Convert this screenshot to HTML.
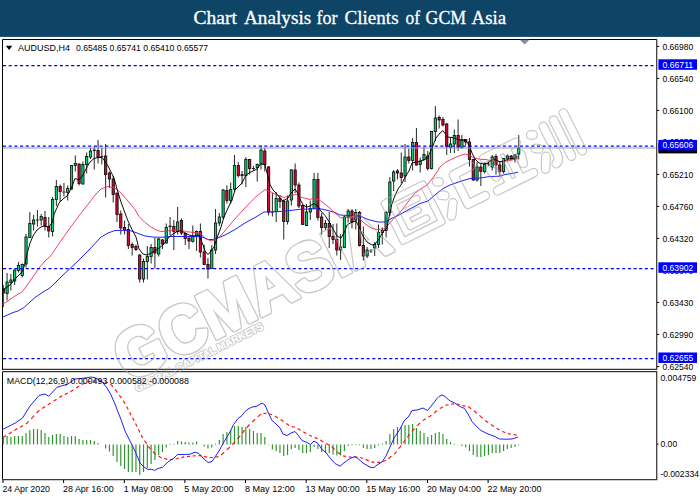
<!DOCTYPE html><html><head><meta charset="utf-8"><title>Chart Analysis for Clients of GCM Asia</title>
<style>html,body{margin:0;padding:0;background:#fff;}body{width:700px;height:500px;overflow:hidden;}svg{display:block;}text{font-family:"Liberation Sans",sans-serif;}</style>
</head><body>
<svg width="700" height="500" viewBox="0 0 700 500">
<rect x="0" y="0" width="700" height="500" fill="#ffffff"/>
<rect x="0" y="0" width="700" height="36.9" fill="#0e4466"/>
<text x="193.5" y="24.2" textLength="43.5" lengthAdjust="spacingAndGlyphs" style="font-family:'Liberation Serif',serif;font-size:19.6px" fill="#ffffff" stroke="#ffffff" stroke-width="0.3">Chart</text>
<text x="244" y="24.2" textLength="67.2" lengthAdjust="spacingAndGlyphs" style="font-family:'Liberation Serif',serif;font-size:19.6px" fill="#ffffff" stroke="#ffffff" stroke-width="0.3">Analysis</text>
<text x="316.6" y="24.2" textLength="21.0" lengthAdjust="spacingAndGlyphs" style="font-family:'Liberation Serif',serif;font-size:19.6px" fill="#ffffff" stroke="#ffffff" stroke-width="0.3">for</text>
<text x="344.5" y="24.2" textLength="54.1" lengthAdjust="spacingAndGlyphs" style="font-family:'Liberation Serif',serif;font-size:19.6px" fill="#ffffff" stroke="#ffffff" stroke-width="0.3">Clients</text>
<text x="405.5" y="24.2" textLength="14.5" lengthAdjust="spacingAndGlyphs" style="font-family:'Liberation Serif',serif;font-size:19.6px" fill="#ffffff" stroke="#ffffff" stroke-width="0.3">of</text>
<text x="425.6" y="24.2" textLength="40.6" lengthAdjust="spacingAndGlyphs" style="font-family:'Liberation Serif',serif;font-size:19.6px" fill="#ffffff" stroke="#ffffff" stroke-width="0.3">GCM</text>
<text x="471.6" y="24.2" textLength="34.5" lengthAdjust="spacingAndGlyphs" style="font-family:'Liberation Serif',serif;font-size:19.6px" fill="#ffffff" stroke="#ffffff" stroke-width="0.3">Asia</text>
<g fill="none" stroke="#000" stroke-width="1">
<path d="M2.5,369.8 V39.5 H657"/>
<path d="M2,369.3 H657" />
<path d="M2.5,480 V371.7 H657" />
</g>
<path d="M656.7,39 V369.8 M656.7,371.2 V480" stroke="#383838" stroke-width="1.25" fill="none"/>
<path d="M2,479.6 H657.2" stroke="#3a3a3a" stroke-width="1.1" fill="none"/>
<path d="M519.8,39.8 H529.4 L524.6,44.4 Z" fill="#7f8ea0"/>
<clipPath id="cc"><rect x="3" y="40" width="653" height="329"/></clipPath>
<g clip-path="url(#cc)">
<path d="M3.30,285.0 V307.0" stroke="#1a1a1a" stroke-width="0.95"/>
<rect x="2.18" y="289.0" width="2.24" height="4.0" fill="#d80836" stroke="#140606" stroke-width="0.85"/>
<path d="M7.09,273.0 V300.5" stroke="#1a1a1a" stroke-width="0.95"/>
<rect x="5.97" y="282.0" width="2.24" height="11.5" fill="#00d67a" stroke="#06140c" stroke-width="0.85"/>
<path d="M10.88,274.0 V290.5" stroke="#1a1a1a" stroke-width="0.95"/>
<rect x="9.76" y="280.0" width="2.24" height="2.5" fill="#00d67a" stroke="#06140c" stroke-width="0.85"/>
<path d="M14.67,269.5 V285.0" stroke="#1a1a1a" stroke-width="0.95"/>
<rect x="13.55" y="270.0" width="2.24" height="11.0" fill="#00d67a" stroke="#06140c" stroke-width="0.85"/>
<path d="M18.46,262.0 V272.5" stroke="#1a1a1a" stroke-width="0.95"/>
<rect x="17.34" y="265.5" width="2.24" height="5.0" fill="#00d67a" stroke="#06140c" stroke-width="0.85"/>
<path d="M22.25,263.5 V277.5" stroke="#1a1a1a" stroke-width="0.95"/>
<rect x="21.13" y="264.5" width="2.24" height="11.0" fill="#00d67a" stroke="#06140c" stroke-width="0.85"/>
<path d="M26.04,234.0 V267.5" stroke="#1a1a1a" stroke-width="0.95"/>
<rect x="24.92" y="237.0" width="2.24" height="27.0" fill="#00d67a" stroke="#06140c" stroke-width="0.85"/>
<path d="M29.83,212.0 V237.5" stroke="#1a1a1a" stroke-width="0.95"/>
<rect x="28.71" y="223.5" width="2.24" height="14.0" fill="#00d67a" stroke="#06140c" stroke-width="0.85"/>
<path d="M33.62,215.0 V230.5" stroke="#1a1a1a" stroke-width="0.95"/>
<rect x="32.50" y="220.0" width="2.24" height="4.0" fill="#00d67a" stroke="#06140c" stroke-width="0.85"/>
<path d="M37.41,210.0 V226.5" stroke="#1a1a1a" stroke-width="0.95"/>
<rect x="35.91" y="219.6" width="3" height="0.9" fill="#1a1a1a"/>
<path d="M41.20,214.0 V225.5" stroke="#1a1a1a" stroke-width="0.95"/>
<rect x="40.08" y="216.5" width="2.24" height="3.5" fill="#00d67a" stroke="#06140c" stroke-width="0.85"/>
<path d="M44.99,211.0 V230.5" stroke="#1a1a1a" stroke-width="0.95"/>
<rect x="43.87" y="217.5" width="2.24" height="8.5" fill="#d80836" stroke="#140606" stroke-width="0.85"/>
<path d="M48.78,217.0 V237.5" stroke="#1a1a1a" stroke-width="0.95"/>
<rect x="47.66" y="226.5" width="2.24" height="4.5" fill="#d80836" stroke="#140606" stroke-width="0.85"/>
<path d="M52.57,197.0 V236.5" stroke="#1a1a1a" stroke-width="0.95"/>
<rect x="51.45" y="199.5" width="2.24" height="32.0" fill="#00d67a" stroke="#06140c" stroke-width="0.85"/>
<path d="M56.36,180.0 V206.0" stroke="#1a1a1a" stroke-width="0.95"/>
<rect x="55.24" y="186.5" width="2.24" height="13.0" fill="#00d67a" stroke="#06140c" stroke-width="0.85"/>
<path d="M60.15,184.5 V202.0" stroke="#1a1a1a" stroke-width="0.95"/>
<rect x="59.03" y="186.5" width="2.24" height="5.0" fill="#d80836" stroke="#140606" stroke-width="0.85"/>
<path d="M63.94,183.0 V196.5" stroke="#1a1a1a" stroke-width="0.95"/>
<rect x="62.44" y="191.6" width="3" height="0.9" fill="#1a1a1a"/>
<path d="M67.73,185.5 V200.5" stroke="#1a1a1a" stroke-width="0.95"/>
<rect x="66.61" y="188.5" width="2.24" height="4.0" fill="#00d67a" stroke="#06140c" stroke-width="0.85"/>
<path d="M71.52,165.5 V189.5" stroke="#1a1a1a" stroke-width="0.95"/>
<rect x="70.40" y="165.5" width="2.24" height="23.5" fill="#00d67a" stroke="#06140c" stroke-width="0.85"/>
<path d="M75.31,155.5 V171.5" stroke="#1a1a1a" stroke-width="0.95"/>
<rect x="74.19" y="163.5" width="2.24" height="2.0" fill="#00d67a" stroke="#06140c" stroke-width="0.85"/>
<path d="M79.10,163.5 V185.5" stroke="#1a1a1a" stroke-width="0.95"/>
<rect x="77.98" y="164.0" width="2.24" height="19.5" fill="#d80836" stroke="#140606" stroke-width="0.85"/>
<path d="M82.89,161.5 V184.5" stroke="#1a1a1a" stroke-width="0.95"/>
<rect x="81.77" y="164.5" width="2.24" height="19.5" fill="#00d67a" stroke="#06140c" stroke-width="0.85"/>
<path d="M86.68,152.5 V173.5" stroke="#1a1a1a" stroke-width="0.95"/>
<rect x="85.56" y="156.5" width="2.24" height="8.0" fill="#00d67a" stroke="#06140c" stroke-width="0.85"/>
<path d="M90.47,148.0 V159.0" stroke="#1a1a1a" stroke-width="0.95"/>
<rect x="89.35" y="151.0" width="2.24" height="6.0" fill="#00d67a" stroke="#06140c" stroke-width="0.85"/>
<path d="M94.26,146.5 V169.5" stroke="#1a1a1a" stroke-width="0.95"/>
<rect x="92.76" y="149.6" width="3" height="1.5" fill="#1a1a1a"/>
<path d="M98.05,140.0 V163.5" stroke="#1a1a1a" stroke-width="0.95"/>
<rect x="96.93" y="150.5" width="2.24" height="6.5" fill="#d80836" stroke="#140606" stroke-width="0.85"/>
<path d="M101.84,148.0 V164.5" stroke="#1a1a1a" stroke-width="0.95"/>
<rect x="100.34" y="156.1" width="3" height="0.9" fill="#1a1a1a"/>
<path d="M105.63,144.0 V197.5" stroke="#1a1a1a" stroke-width="0.95"/>
<rect x="104.51" y="156.0" width="2.24" height="18.5" fill="#d80836" stroke="#140606" stroke-width="0.85"/>
<path d="M109.42,171.5 V188.0" stroke="#1a1a1a" stroke-width="0.95"/>
<rect x="108.30" y="173.0" width="2.24" height="6.0" fill="#d80836" stroke="#140606" stroke-width="0.85"/>
<path d="M113.21,176.0 V202.5" stroke="#1a1a1a" stroke-width="0.95"/>
<rect x="112.09" y="179.0" width="2.24" height="15.5" fill="#d80836" stroke="#140606" stroke-width="0.85"/>
<path d="M117.00,193.0 V222.0" stroke="#1a1a1a" stroke-width="0.95"/>
<rect x="115.88" y="193.0" width="2.24" height="21.5" fill="#d80836" stroke="#140606" stroke-width="0.85"/>
<path d="M120.79,210.5 V234.5" stroke="#1a1a1a" stroke-width="0.95"/>
<rect x="119.67" y="214.0" width="2.24" height="14.0" fill="#d80836" stroke="#140606" stroke-width="0.85"/>
<path d="M124.58,220.5 V234.5" stroke="#1a1a1a" stroke-width="0.95"/>
<rect x="123.46" y="227.5" width="2.24" height="2.5" fill="#d80836" stroke="#140606" stroke-width="0.85"/>
<path d="M128.37,224.0 V249.0" stroke="#1a1a1a" stroke-width="0.95"/>
<rect x="127.25" y="229.5" width="2.24" height="16.0" fill="#d80836" stroke="#140606" stroke-width="0.85"/>
<path d="M132.16,242.5 V255.5" stroke="#1a1a1a" stroke-width="0.95"/>
<rect x="131.04" y="244.5" width="2.24" height="3.0" fill="#d80836" stroke="#140606" stroke-width="0.85"/>
<path d="M135.95,244.5 V251.0" stroke="#1a1a1a" stroke-width="0.95"/>
<rect x="134.83" y="246.5" width="2.24" height="3.0" fill="#d80836" stroke="#140606" stroke-width="0.85"/>
<path d="M139.74,254.5 V282.5" stroke="#1a1a1a" stroke-width="0.95"/>
<rect x="138.62" y="255.0" width="2.24" height="24.0" fill="#d80836" stroke="#140606" stroke-width="0.85"/>
<path d="M143.53,258.5 V282.5" stroke="#1a1a1a" stroke-width="0.95"/>
<rect x="142.41" y="261.5" width="2.24" height="17.5" fill="#00d67a" stroke="#06140c" stroke-width="0.85"/>
<path d="M147.32,246.0 V279.5" stroke="#1a1a1a" stroke-width="0.95"/>
<rect x="146.20" y="256.5" width="2.24" height="5.0" fill="#00d67a" stroke="#06140c" stroke-width="0.85"/>
<path d="M151.11,244.0 V263.5" stroke="#1a1a1a" stroke-width="0.95"/>
<rect x="149.99" y="247.5" width="2.24" height="9.0" fill="#00d67a" stroke="#06140c" stroke-width="0.85"/>
<path d="M154.90,238.0 V268.5" stroke="#1a1a1a" stroke-width="0.95"/>
<rect x="153.78" y="247.5" width="2.24" height="5.5" fill="#d80836" stroke="#140606" stroke-width="0.85"/>
<path d="M158.69,238.0 V256.5" stroke="#1a1a1a" stroke-width="0.95"/>
<rect x="157.57" y="239.0" width="2.24" height="15.0" fill="#00d67a" stroke="#06140c" stroke-width="0.85"/>
<path d="M162.48,239.0 V249.0" stroke="#1a1a1a" stroke-width="0.95"/>
<rect x="161.36" y="240.0" width="2.24" height="4.0" fill="#d80836" stroke="#140606" stroke-width="0.85"/>
<path d="M166.27,223.5 V243.5" stroke="#1a1a1a" stroke-width="0.95"/>
<rect x="165.15" y="227.5" width="2.24" height="15.5" fill="#00d67a" stroke="#06140c" stroke-width="0.85"/>
<path d="M170.06,217.0 V235.0" stroke="#1a1a1a" stroke-width="0.95"/>
<rect x="168.56" y="225.6" width="3" height="1.5" fill="#1a1a1a"/>
<path d="M173.85,220.0 V250.0" stroke="#1a1a1a" stroke-width="0.95"/>
<rect x="172.73" y="226.5" width="2.24" height="5.0" fill="#d80836" stroke="#140606" stroke-width="0.85"/>
<path d="M177.64,207.0 V234.5" stroke="#1a1a1a" stroke-width="0.95"/>
<rect x="176.52" y="222.0" width="2.24" height="9.5" fill="#00d67a" stroke="#06140c" stroke-width="0.85"/>
<path d="M181.43,218.5 V235.0" stroke="#1a1a1a" stroke-width="0.95"/>
<rect x="180.31" y="220.5" width="2.24" height="12.5" fill="#d80836" stroke="#140606" stroke-width="0.85"/>
<path d="M185.22,232.5 V245.0" stroke="#1a1a1a" stroke-width="0.95"/>
<rect x="184.10" y="233.5" width="2.24" height="5.0" fill="#d80836" stroke="#140606" stroke-width="0.85"/>
<path d="M189.01,237.5 V249.0" stroke="#1a1a1a" stroke-width="0.95"/>
<rect x="187.89" y="238.0" width="2.24" height="3.0" fill="#d80836" stroke="#140606" stroke-width="0.85"/>
<path d="M192.80,225.5 V242.5" stroke="#1a1a1a" stroke-width="0.95"/>
<rect x="191.68" y="236.5" width="2.24" height="5.0" fill="#00d67a" stroke="#06140c" stroke-width="0.85"/>
<path d="M196.59,230.5 V251.0" stroke="#1a1a1a" stroke-width="0.95"/>
<rect x="195.47" y="231.5" width="2.24" height="4.5" fill="#00d67a" stroke="#06140c" stroke-width="0.85"/>
<path d="M200.38,223.5 V257.5" stroke="#1a1a1a" stroke-width="0.95"/>
<rect x="199.26" y="231.5" width="2.24" height="20.5" fill="#d80836" stroke="#140606" stroke-width="0.85"/>
<path d="M204.17,244.5 V264.5" stroke="#1a1a1a" stroke-width="0.95"/>
<rect x="203.05" y="252.0" width="2.24" height="12.5" fill="#d80836" stroke="#140606" stroke-width="0.85"/>
<path d="M207.96,258.0 V278.5" stroke="#1a1a1a" stroke-width="0.95"/>
<rect x="206.84" y="264.5" width="2.24" height="4.5" fill="#d80836" stroke="#140606" stroke-width="0.85"/>
<path d="M211.75,245.0 V268.5" stroke="#1a1a1a" stroke-width="0.95"/>
<rect x="210.63" y="250.0" width="2.24" height="18.5" fill="#00d67a" stroke="#06140c" stroke-width="0.85"/>
<path d="M215.54,209.0 V254.0" stroke="#1a1a1a" stroke-width="0.95"/>
<rect x="214.42" y="223.0" width="2.24" height="27.0" fill="#00d67a" stroke="#06140c" stroke-width="0.85"/>
<path d="M219.33,213.0 V226.0" stroke="#1a1a1a" stroke-width="0.95"/>
<rect x="218.21" y="217.0" width="2.24" height="6.0" fill="#00d67a" stroke="#06140c" stroke-width="0.85"/>
<path d="M223.12,189.0 V219.0" stroke="#1a1a1a" stroke-width="0.95"/>
<rect x="222.00" y="190.0" width="2.24" height="27.0" fill="#00d67a" stroke="#06140c" stroke-width="0.85"/>
<path d="M226.91,185.5 V203.5" stroke="#1a1a1a" stroke-width="0.95"/>
<rect x="225.79" y="190.5" width="2.24" height="10.0" fill="#d80836" stroke="#140606" stroke-width="0.85"/>
<path d="M230.70,182.5 V203.5" stroke="#1a1a1a" stroke-width="0.95"/>
<rect x="229.58" y="189.5" width="2.24" height="11.0" fill="#00d67a" stroke="#06140c" stroke-width="0.85"/>
<path d="M234.49,155.0 V191.5" stroke="#1a1a1a" stroke-width="0.95"/>
<rect x="233.37" y="165.5" width="2.24" height="23.5" fill="#00d67a" stroke="#06140c" stroke-width="0.85"/>
<path d="M238.28,162.0 V177.5" stroke="#1a1a1a" stroke-width="0.95"/>
<rect x="237.16" y="165.5" width="2.24" height="10.0" fill="#d80836" stroke="#140606" stroke-width="0.85"/>
<path d="M242.07,171.0 V184.5" stroke="#1a1a1a" stroke-width="0.95"/>
<rect x="240.57" y="174.1" width="3" height="2.0" fill="#1a1a1a"/>
<path d="M245.86,157.0 V187.0" stroke="#1a1a1a" stroke-width="0.95"/>
<rect x="244.74" y="159.5" width="2.24" height="16.0" fill="#00d67a" stroke="#06140c" stroke-width="0.85"/>
<path d="M249.65,159.0 V174.5" stroke="#1a1a1a" stroke-width="0.95"/>
<rect x="248.53" y="159.5" width="2.24" height="9.0" fill="#d80836" stroke="#140606" stroke-width="0.85"/>
<path d="M253.44,166.0 V170.5" stroke="#1a1a1a" stroke-width="0.95"/>
<rect x="251.94" y="168.1" width="3" height="0.9" fill="#1a1a1a"/>
<path d="M257.23,163.5 V181.5" stroke="#1a1a1a" stroke-width="0.95"/>
<rect x="256.11" y="164.5" width="2.24" height="3.0" fill="#00d67a" stroke="#06140c" stroke-width="0.85"/>
<path d="M261.02,145.5 V169.5" stroke="#1a1a1a" stroke-width="0.95"/>
<rect x="259.90" y="150.0" width="2.24" height="14.0" fill="#00d67a" stroke="#06140c" stroke-width="0.85"/>
<path d="M264.81,148.0 V171.5" stroke="#1a1a1a" stroke-width="0.95"/>
<rect x="263.69" y="151.0" width="2.24" height="13.5" fill="#d80836" stroke="#140606" stroke-width="0.85"/>
<path d="M268.60,166.0 V215.5" stroke="#1a1a1a" stroke-width="0.95"/>
<rect x="267.48" y="167.0" width="2.24" height="45.0" fill="#d80836" stroke="#140606" stroke-width="0.85"/>
<path d="M272.39,193.0 V216.5" stroke="#1a1a1a" stroke-width="0.95"/>
<rect x="270.89" y="211.6" width="3" height="0.9" fill="#1a1a1a"/>
<path d="M276.18,192.0 V222.0" stroke="#1a1a1a" stroke-width="0.95"/>
<rect x="275.06" y="198.5" width="2.24" height="13.0" fill="#00d67a" stroke="#06140c" stroke-width="0.85"/>
<path d="M279.97,195.0 V208.0" stroke="#1a1a1a" stroke-width="0.95"/>
<rect x="278.85" y="198.5" width="2.24" height="3.0" fill="#d80836" stroke="#140606" stroke-width="0.85"/>
<path d="M283.76,199.5 V239.5" stroke="#1a1a1a" stroke-width="0.95"/>
<rect x="282.64" y="201.5" width="2.24" height="20.0" fill="#d80836" stroke="#140606" stroke-width="0.85"/>
<path d="M287.55,195.5 V224.5" stroke="#1a1a1a" stroke-width="0.95"/>
<rect x="286.43" y="201.0" width="2.24" height="20.5" fill="#00d67a" stroke="#06140c" stroke-width="0.85"/>
<path d="M291.34,169.0 V205.5" stroke="#1a1a1a" stroke-width="0.95"/>
<rect x="290.22" y="170.0" width="2.24" height="30.0" fill="#00d67a" stroke="#06140c" stroke-width="0.85"/>
<path d="M295.13,163.5 V193.0" stroke="#1a1a1a" stroke-width="0.95"/>
<rect x="294.01" y="170.0" width="2.24" height="15.0" fill="#d80836" stroke="#140606" stroke-width="0.85"/>
<path d="M298.92,182.5 V208.0" stroke="#1a1a1a" stroke-width="0.95"/>
<rect x="297.80" y="185.0" width="2.24" height="21.0" fill="#d80836" stroke="#140606" stroke-width="0.85"/>
<path d="M302.71,205.0 V225.0" stroke="#1a1a1a" stroke-width="0.95"/>
<rect x="301.59" y="205.5" width="2.24" height="19.0" fill="#d80836" stroke="#140606" stroke-width="0.85"/>
<path d="M306.50,204.0 V226.0" stroke="#1a1a1a" stroke-width="0.95"/>
<rect x="305.38" y="212.0" width="2.24" height="13.5" fill="#00d67a" stroke="#06140c" stroke-width="0.85"/>
<path d="M310.29,200.5 V220.0" stroke="#1a1a1a" stroke-width="0.95"/>
<rect x="309.17" y="208.5" width="2.24" height="3.5" fill="#00d67a" stroke="#06140c" stroke-width="0.85"/>
<path d="M314.08,173.0 V209.0" stroke="#1a1a1a" stroke-width="0.95"/>
<rect x="312.96" y="179.5" width="2.24" height="29.0" fill="#00d67a" stroke="#06140c" stroke-width="0.85"/>
<path d="M317.87,173.0 V220.5" stroke="#1a1a1a" stroke-width="0.95"/>
<rect x="316.75" y="179.5" width="2.24" height="38.0" fill="#d80836" stroke="#140606" stroke-width="0.85"/>
<path d="M321.66,213.0 V234.5" stroke="#1a1a1a" stroke-width="0.95"/>
<rect x="320.54" y="217.0" width="2.24" height="10.5" fill="#d80836" stroke="#140606" stroke-width="0.85"/>
<path d="M325.45,220.0 V230.0" stroke="#1a1a1a" stroke-width="0.95"/>
<rect x="324.33" y="223.5" width="2.24" height="4.0" fill="#00d67a" stroke="#06140c" stroke-width="0.85"/>
<path d="M329.24,212.0 V248.0" stroke="#1a1a1a" stroke-width="0.95"/>
<rect x="328.12" y="223.5" width="2.24" height="13.0" fill="#d80836" stroke="#140606" stroke-width="0.85"/>
<path d="M333.03,224.0 V244.0" stroke="#1a1a1a" stroke-width="0.95"/>
<rect x="331.91" y="236.5" width="2.24" height="3.0" fill="#d80836" stroke="#140606" stroke-width="0.85"/>
<path d="M336.82,223.5 V255.5" stroke="#1a1a1a" stroke-width="0.95"/>
<rect x="335.70" y="239.5" width="2.24" height="10.5" fill="#d80836" stroke="#140606" stroke-width="0.85"/>
<path d="M340.61,234.0 V260.0" stroke="#1a1a1a" stroke-width="0.95"/>
<rect x="339.49" y="247.0" width="2.24" height="3.0" fill="#00d67a" stroke="#06140c" stroke-width="0.85"/>
<path d="M344.40,215.5 V248.0" stroke="#1a1a1a" stroke-width="0.95"/>
<rect x="343.28" y="217.0" width="2.24" height="30.5" fill="#00d67a" stroke="#06140c" stroke-width="0.85"/>
<path d="M348.19,209.0 V222.5" stroke="#1a1a1a" stroke-width="0.95"/>
<rect x="347.07" y="211.0" width="2.24" height="6.0" fill="#00d67a" stroke="#06140c" stroke-width="0.85"/>
<path d="M351.98,209.0 V228.5" stroke="#1a1a1a" stroke-width="0.95"/>
<rect x="350.86" y="211.0" width="2.24" height="11.0" fill="#d80836" stroke="#140606" stroke-width="0.85"/>
<path d="M355.77,209.0 V229.5" stroke="#1a1a1a" stroke-width="0.95"/>
<rect x="354.65" y="212.5" width="2.24" height="7.5" fill="#00d67a" stroke="#06140c" stroke-width="0.85"/>
<path d="M359.56,211.0 V246.5" stroke="#1a1a1a" stroke-width="0.95"/>
<rect x="358.44" y="212.5" width="2.24" height="33.0" fill="#d80836" stroke="#140606" stroke-width="0.85"/>
<path d="M363.35,226.5 V260.5" stroke="#1a1a1a" stroke-width="0.95"/>
<rect x="362.23" y="245.5" width="2.24" height="10.5" fill="#d80836" stroke="#140606" stroke-width="0.85"/>
<path d="M367.14,247.0 V258.0" stroke="#1a1a1a" stroke-width="0.95"/>
<rect x="366.02" y="250.0" width="2.24" height="6.0" fill="#00d67a" stroke="#06140c" stroke-width="0.85"/>
<path d="M370.93,249.0 V253.0" stroke="#1a1a1a" stroke-width="0.95"/>
<rect x="369.43" y="250.6" width="3" height="0.9" fill="#1a1a1a"/>
<path d="M374.72,242.0 V256.0" stroke="#1a1a1a" stroke-width="0.95"/>
<rect x="373.60" y="244.5" width="2.24" height="3.5" fill="#00d67a" stroke="#06140c" stroke-width="0.85"/>
<path d="M378.51,224.5 V248.0" stroke="#1a1a1a" stroke-width="0.95"/>
<rect x="377.39" y="232.5" width="2.24" height="12.0" fill="#00d67a" stroke="#06140c" stroke-width="0.85"/>
<path d="M382.30,227.5 V244.5" stroke="#1a1a1a" stroke-width="0.95"/>
<rect x="381.18" y="230.5" width="2.24" height="2.0" fill="#00d67a" stroke="#06140c" stroke-width="0.85"/>
<path d="M386.09,211.0 V237.5" stroke="#1a1a1a" stroke-width="0.95"/>
<rect x="384.97" y="212.5" width="2.24" height="18.0" fill="#00d67a" stroke="#06140c" stroke-width="0.85"/>
<path d="M389.88,177.0 V216.0" stroke="#1a1a1a" stroke-width="0.95"/>
<rect x="388.76" y="182.0" width="2.24" height="30.5" fill="#00d67a" stroke="#06140c" stroke-width="0.85"/>
<path d="M393.67,170.0 V191.0" stroke="#1a1a1a" stroke-width="0.95"/>
<rect x="392.55" y="172.0" width="2.24" height="9.0" fill="#00d67a" stroke="#06140c" stroke-width="0.85"/>
<path d="M397.46,169.0 V179.5" stroke="#1a1a1a" stroke-width="0.95"/>
<rect x="396.34" y="171.0" width="2.24" height="2.0" fill="#d80836" stroke="#140606" stroke-width="0.85"/>
<path d="M401.25,152.5 V183.5" stroke="#1a1a1a" stroke-width="0.95"/>
<rect x="400.13" y="173.0" width="2.24" height="4.5" fill="#d80836" stroke="#140606" stroke-width="0.85"/>
<path d="M405.04,144.0 V182.0" stroke="#1a1a1a" stroke-width="0.95"/>
<rect x="403.92" y="157.0" width="2.24" height="19.0" fill="#00d67a" stroke="#06140c" stroke-width="0.85"/>
<path d="M408.83,148.5 V163.5" stroke="#1a1a1a" stroke-width="0.95"/>
<rect x="407.71" y="157.0" width="2.24" height="3.5" fill="#d80836" stroke="#140606" stroke-width="0.85"/>
<path d="M412.62,138.0 V170.5" stroke="#1a1a1a" stroke-width="0.95"/>
<rect x="411.50" y="142.5" width="2.24" height="18.0" fill="#00d67a" stroke="#06140c" stroke-width="0.85"/>
<path d="M416.41,128.0 V165.5" stroke="#1a1a1a" stroke-width="0.95"/>
<rect x="415.29" y="142.5" width="2.24" height="22.5" fill="#d80836" stroke="#140606" stroke-width="0.85"/>
<path d="M420.20,157.5 V172.5" stroke="#1a1a1a" stroke-width="0.95"/>
<rect x="419.08" y="161.5" width="2.24" height="3.0" fill="#00d67a" stroke="#06140c" stroke-width="0.85"/>
<path d="M423.99,146.5 V160.5" stroke="#1a1a1a" stroke-width="0.95"/>
<rect x="422.87" y="154.5" width="2.24" height="5.0" fill="#00d67a" stroke="#06140c" stroke-width="0.85"/>
<path d="M427.78,151.0 V170.5" stroke="#1a1a1a" stroke-width="0.95"/>
<rect x="426.66" y="156.0" width="2.24" height="12.5" fill="#d80836" stroke="#140606" stroke-width="0.85"/>
<path d="M431.57,131.0 V169.5" stroke="#1a1a1a" stroke-width="0.95"/>
<rect x="430.45" y="131.5" width="2.24" height="37.0" fill="#00d67a" stroke="#06140c" stroke-width="0.85"/>
<path d="M435.36,106.0 V141.0" stroke="#1a1a1a" stroke-width="0.95"/>
<rect x="434.24" y="118.0" width="2.24" height="13.5" fill="#00d67a" stroke="#06140c" stroke-width="0.85"/>
<path d="M439.15,115.5 V128.5" stroke="#1a1a1a" stroke-width="0.95"/>
<rect x="438.03" y="117.5" width="2.24" height="2.5" fill="#d80836" stroke="#140606" stroke-width="0.85"/>
<path d="M442.94,117.0 V126.5" stroke="#1a1a1a" stroke-width="0.95"/>
<rect x="441.82" y="119.5" width="2.24" height="5.5" fill="#d80836" stroke="#140606" stroke-width="0.85"/>
<path d="M446.73,123.0 V155.0" stroke="#1a1a1a" stroke-width="0.95"/>
<rect x="445.61" y="124.0" width="2.24" height="22.5" fill="#d80836" stroke="#140606" stroke-width="0.85"/>
<path d="M450.52,137.5 V153.0" stroke="#1a1a1a" stroke-width="0.95"/>
<rect x="449.40" y="144.0" width="2.24" height="3.5" fill="#00d67a" stroke="#06140c" stroke-width="0.85"/>
<path d="M454.31,129.5 V153.0" stroke="#1a1a1a" stroke-width="0.95"/>
<rect x="453.19" y="135.5" width="2.24" height="8.5" fill="#00d67a" stroke="#06140c" stroke-width="0.85"/>
<path d="M458.10,119.5 V151.0" stroke="#1a1a1a" stroke-width="0.95"/>
<rect x="456.98" y="135.5" width="2.24" height="12.0" fill="#d80836" stroke="#140606" stroke-width="0.85"/>
<path d="M461.89,135.0 V149.0" stroke="#1a1a1a" stroke-width="0.95"/>
<rect x="460.77" y="139.5" width="2.24" height="8.0" fill="#00d67a" stroke="#06140c" stroke-width="0.85"/>
<path d="M465.68,139.0 V145.0" stroke="#1a1a1a" stroke-width="0.95"/>
<rect x="464.56" y="139.5" width="2.24" height="2.5" fill="#d80836" stroke="#140606" stroke-width="0.85"/>
<path d="M469.47,138.0 V166.5" stroke="#1a1a1a" stroke-width="0.95"/>
<rect x="468.35" y="142.0" width="2.24" height="17.5" fill="#d80836" stroke="#140606" stroke-width="0.85"/>
<path d="M473.26,159.0 V181.0" stroke="#1a1a1a" stroke-width="0.95"/>
<rect x="472.14" y="159.5" width="2.24" height="20.5" fill="#d80836" stroke="#140606" stroke-width="0.85"/>
<path d="M477.05,162.0 V181.5" stroke="#1a1a1a" stroke-width="0.95"/>
<rect x="475.93" y="167.0" width="2.24" height="13.0" fill="#00d67a" stroke="#06140c" stroke-width="0.85"/>
<path d="M480.84,164.0 V186.0" stroke="#1a1a1a" stroke-width="0.95"/>
<rect x="479.72" y="167.0" width="2.24" height="4.5" fill="#d80836" stroke="#140606" stroke-width="0.85"/>
<path d="M484.63,162.5 V173.5" stroke="#1a1a1a" stroke-width="0.95"/>
<rect x="483.51" y="164.0" width="2.24" height="7.5" fill="#00d67a" stroke="#06140c" stroke-width="0.85"/>
<path d="M488.42,161.5 V166.0" stroke="#1a1a1a" stroke-width="0.95"/>
<rect x="486.92" y="163.6" width="3" height="0.9" fill="#1a1a1a"/>
<path d="M492.21,155.0 V170.5" stroke="#1a1a1a" stroke-width="0.95"/>
<rect x="491.09" y="157.0" width="2.24" height="10.0" fill="#00d67a" stroke="#06140c" stroke-width="0.85"/>
<path d="M496.00,154.0 V174.5" stroke="#1a1a1a" stroke-width="0.95"/>
<rect x="494.88" y="156.5" width="2.24" height="8.5" fill="#d80836" stroke="#140606" stroke-width="0.85"/>
<path d="M499.79,162.0 V176.0" stroke="#1a1a1a" stroke-width="0.95"/>
<rect x="498.67" y="165.0" width="2.24" height="6.5" fill="#d80836" stroke="#140606" stroke-width="0.85"/>
<path d="M503.58,158.0 V173.5" stroke="#1a1a1a" stroke-width="0.95"/>
<rect x="502.46" y="158.5" width="2.24" height="13.0" fill="#00d67a" stroke="#06140c" stroke-width="0.85"/>
<path d="M507.37,154.5 V162.0" stroke="#1a1a1a" stroke-width="0.95"/>
<rect x="506.25" y="156.0" width="2.24" height="3.0" fill="#00d67a" stroke="#06140c" stroke-width="0.85"/>
<path d="M511.16,155.0 V159.5" stroke="#1a1a1a" stroke-width="0.95"/>
<rect x="510.04" y="156.0" width="2.24" height="3.0" fill="#d80836" stroke="#140606" stroke-width="0.85"/>
<path d="M514.95,154.0 V162.5" stroke="#1a1a1a" stroke-width="0.95"/>
<rect x="513.83" y="155.0" width="2.24" height="4.0" fill="#00d67a" stroke="#06140c" stroke-width="0.85"/>
<path d="M518.74,135.0 V159.5" stroke="#1a1a1a" stroke-width="0.95"/>
<rect x="517.62" y="148.0" width="2.24" height="6.0" fill="#00d67a" stroke="#06140c" stroke-width="0.85"/>
</g>
<path d="M3.0,317.0 L13.0,312.5 L18.0,311.0 L24.0,307.5 L30.0,302.0 L35.0,297.5 L43.0,292.0 L49.0,288.5 L53.0,285.0 L56.0,282.0 L62.0,276.0 L70.0,268.5 L80.0,259.0 L88.0,251.0 L95.0,243.5 L101.0,237.0 L108.0,233.0 L115.0,230.5 L123.0,230.3 L130.0,230.5 L137.0,233.0 L145.0,236.0 L154.0,237.2 L165.0,237.2 L170.0,236.5 L185.0,236.5 L201.0,236.5 L208.0,239.5 L213.0,239.5 L219.0,237.5 L225.0,235.0 L235.0,229.5 L245.0,223.0 L255.0,217.5 L264.0,212.0 L270.0,211.9 L280.0,211.5 L290.0,210.5 L300.0,209.3 L310.0,209.0 L319.0,208.5 L326.0,210.0 L335.0,212.5 L340.0,215.0 L348.0,215.5 L360.0,216.0 L368.0,219.5 L378.0,222.0 L385.0,222.0 L389.0,219.7 L398.0,215.5 L408.0,210.0 L420.0,203.5 L428.0,201.0 L436.0,194.0 L444.0,188.0 L450.0,185.0 L460.0,181.5 L470.0,178.5 L480.0,178.0 L490.0,176.5 L500.0,176.2 L505.0,174.5 L512.0,173.5 L518.0,172.2" stroke="#1c1cff" stroke-width="0.98" fill="none" stroke-linejoin="round"/>
<path d="M2.0,304.5 L8.0,301.0 L15.0,296.0 L22.0,292.0 L25.0,288.0 L30.0,281.0 L35.0,274.0 L39.0,268.0 L45.0,261.0 L51.0,255.5 L60.0,242.0 L70.0,228.0 L80.0,214.5 L89.0,203.0 L96.0,194.0 L101.0,189.0 L105.0,187.5 L108.0,186.5 L115.0,188.0 L121.0,193.0 L128.0,201.0 L135.0,209.5 L139.0,216.5 L145.0,222.5 L151.0,227.0 L157.0,230.3 L161.0,231.5 L168.0,231.0 L175.0,230.0 L181.0,230.0 L187.0,231.8 L195.0,232.5 L200.0,233.2 L205.0,238.0 L211.0,241.0 L217.0,239.0 L221.0,235.5 L226.0,229.5 L233.0,221.0 L244.0,209.0 L255.0,197.5 L265.0,189.5 L271.0,192.0 L276.0,194.5 L284.0,197.5 L290.0,195.5 L296.0,194.5 L302.0,197.5 L310.0,199.5 L314.0,198.0 L320.0,200.5 L328.0,206.5 L335.0,213.0 L341.0,218.0 L348.0,217.0 L358.0,217.0 L364.0,223.0 L372.0,228.5 L378.0,229.5 L385.0,228.5 L389.0,224.0 L393.0,219.5 L402.0,210.0 L408.0,202.0 L414.0,194.0 L420.0,189.5 L427.0,185.0 L432.0,179.0 L438.0,170.5 L440.0,167.0 L446.0,162.0 L453.0,158.5 L460.0,155.5 L465.0,154.0 L470.0,155.5 L474.0,158.0 L480.0,159.3 L486.0,159.5 L490.0,160.5 L500.0,161.5 L505.0,161.0 L510.0,160.5 L514.0,159.5 L518.0,158.5" stroke="#f0284e" stroke-width="0.88" fill="none" stroke-linejoin="round"/>
<path d="M3.0,291.0 L4.0,289.0 L10.0,285.0 L15.0,279.0 L22.0,272.0 L25.0,264.0 L27.0,254.0 L30.0,243.0 L33.5,235.0 L37.0,230.0 L41.0,227.0 L44.0,226.0 L48.8,227.0 L52.5,222.0 L54.0,214.5 L59.0,203.0 L63.0,199.0 L67.0,196.0 L71.0,189.0 L75.0,178.5 L79.0,180.0 L83.0,175.0 L87.0,167.0 L90.0,162.0 L94.0,158.5 L98.0,157.5 L102.0,157.5 L104.0,160.0 L108.0,166.0 L111.0,172.0 L114.0,178.0 L117.0,189.0 L121.0,202.0 L125.0,213.0 L128.0,221.0 L132.0,229.5 L136.0,237.0 L139.0,249.0 L143.0,254.0 L147.0,255.0 L151.0,253.0 L155.0,251.0 L159.0,248.0 L163.0,245.0 L165.0,242.5 L169.0,237.0 L173.0,234.0 L177.0,231.5 L181.0,230.5 L185.0,233.0 L189.0,235.0 L193.0,236.0 L199.0,235.0 L203.0,245.0 L205.0,251.0 L208.0,254.5 L211.0,251.0 L214.0,247.0 L217.0,238.0 L221.0,227.0 L224.0,217.0 L228.0,208.0 L232.0,200.0 L235.0,190.0 L242.0,183.0 L246.0,175.0 L250.0,172.5 L257.0,169.0 L261.0,163.5 L265.0,165.0 L267.0,173.0 L269.0,180.0 L270.0,184.5 L273.0,190.0 L276.0,193.0 L280.0,198.0 L283.0,201.0 L288.0,198.0 L291.0,193.0 L295.0,189.0 L297.0,192.0 L300.0,199.0 L303.0,205.0 L307.0,207.0 L310.0,206.0 L314.0,203.5 L318.0,206.0 L320.0,210.0 L325.0,215.5 L329.0,221.5 L333.0,229.0 L337.0,236.0 L341.0,238.0 L344.0,233.0 L347.0,225.0 L352.0,222.0 L356.0,221.0 L359.0,227.0 L363.0,236.0 L367.0,242.0 L372.0,245.0 L375.0,244.0 L379.0,239.0 L383.0,232.0 L387.0,228.0 L389.0,217.0 L391.0,207.0 L394.0,198.0 L398.0,189.0 L402.0,183.5 L405.0,177.0 L409.0,171.0 L412.0,163.0 L416.0,162.0 L424.0,160.0 L428.0,157.0 L432.0,148.0 L436.0,138.0 L440.0,133.0 L443.0,130.5 L445.0,133.5 L447.0,137.0 L452.0,137.5 L460.0,140.0 L466.0,140.5 L469.0,145.0 L472.0,153.0 L475.0,159.0 L479.0,163.0 L484.0,164.0 L488.0,163.0 L492.0,159.5 L496.0,160.0 L500.0,162.0 L504.0,161.0 L508.0,159.0 L514.0,158.5 L518.0,156.5" stroke="#000" stroke-width="0.95" fill="none" stroke-linejoin="round"/>
<path d="M3,148.0 H656" stroke="#929caa" stroke-width="1.05" fill="none"/>
<path d="M3,65.5 H654.6" stroke="#0000ff" stroke-width="1.25" stroke-dasharray="3.1 2.58" fill="none"/>
<path d="M3,146.1 H654.6" stroke="#0000ff" stroke-width="1.1" stroke-dasharray="3.1 2.58" fill="none"/>
<path d="M3,268.5 H654.6" stroke="#0000ff" stroke-width="1.25" stroke-dasharray="3.1 2.58" fill="none"/>
<path d="M3,358.6 H654.6" stroke="#0000ff" stroke-width="1.1" stroke-dasharray="3.1 2.58" fill="none"/>
<g stroke="#2a922a" stroke-width="1.15">
<path d="M3.30,444.4 V436.5"/>
<path d="M7.09,444.4 V436"/>
<path d="M10.88,444.4 V437"/>
<path d="M14.67,444.4 V436"/>
<path d="M18.46,444.4 V436"/>
<path d="M22.25,444.4 V436"/>
<path d="M26.04,444.4 V433"/>
<path d="M29.83,444.4 V430"/>
<path d="M33.62,444.4 V429"/>
<path d="M37.41,444.4 V429"/>
<path d="M41.20,444.4 V430"/>
<path d="M44.99,444.4 V433"/>
<path d="M48.78,444.4 V437"/>
<path d="M52.57,444.4 V435"/>
<path d="M56.36,444.4 V434"/>
<path d="M60.15,444.4 V434"/>
<path d="M63.94,444.4 V436"/>
<path d="M67.73,444.4 V437"/>
<path d="M71.52,444.4 V436"/>
<path d="M75.31,444.4 V436"/>
<path d="M79.10,444.4 V439"/>
<path d="M82.89,444.4 V440"/>
<path d="M86.68,444.4 V440"/>
<path d="M90.47,444.4 V440"/>
<path d="M94.26,444.4 V441"/>
<path d="M98.05,444.4 V443"/>
<path d="M105.63,444.4 V448.5"/>
<path d="M109.42,444.4 V451.5"/>
<path d="M113.21,444.4 V456"/>
<path d="M117.00,444.4 V462"/>
<path d="M120.79,444.4 V466"/>
<path d="M124.58,444.4 V469"/>
<path d="M128.37,444.4 V472"/>
<path d="M132.16,444.4 V472"/>
<path d="M135.95,444.4 V472"/>
<path d="M139.74,444.4 V475"/>
<path d="M143.53,444.4 V472"/>
<path d="M147.32,444.4 V468"/>
<path d="M151.11,444.4 V464"/>
<path d="M154.90,444.4 V460"/>
<path d="M158.69,444.4 V455"/>
<path d="M162.48,444.4 V452"/>
<path d="M166.27,444.4 V447.5"/>
<path d="M170.06,444.4 V443.8"/>
<path d="M173.85,444.4 V443.8"/>
<path d="M177.64,444.4 V441"/>
<path d="M181.43,444.4 V441.5"/>
<path d="M185.22,444.4 V442"/>
<path d="M189.01,444.4 V442.5"/>
<path d="M192.80,444.4 V442.5"/>
<path d="M196.59,444.4 V441.5"/>
<path d="M204.17,444.4 V446.5"/>
<path d="M207.96,444.4 V448.5"/>
<path d="M211.75,444.4 V447.5"/>
<path d="M215.54,444.4 V443.5"/>
<path d="M219.33,444.4 V440"/>
<path d="M223.12,444.4 V434"/>
<path d="M226.91,444.4 V432"/>
<path d="M230.70,444.4 V430"/>
<path d="M234.49,444.4 V426"/>
<path d="M238.28,444.4 V426"/>
<path d="M242.07,444.4 V427"/>
<path d="M245.86,444.4 V427"/>
<path d="M249.65,444.4 V429"/>
<path d="M253.44,444.4 V431"/>
<path d="M257.23,444.4 V433"/>
<path d="M261.02,444.4 V433"/>
<path d="M264.81,444.4 V437"/>
<path d="M268.60,444.4 V445"/>
<path d="M272.39,444.4 V449.5"/>
<path d="M276.18,444.4 V451"/>
<path d="M279.97,444.4 V453"/>
<path d="M283.76,444.4 V456"/>
<path d="M287.55,444.4 V455"/>
<path d="M291.34,444.4 V449"/>
<path d="M295.13,444.4 V448"/>
<path d="M298.92,444.4 V450"/>
<path d="M302.71,444.4 V453"/>
<path d="M306.50,444.4 V453"/>
<path d="M310.29,444.4 V452"/>
<path d="M314.08,444.4 V447"/>
<path d="M317.87,444.4 V449"/>
<path d="M321.66,444.4 V452"/>
<path d="M325.45,444.4 V453"/>
<path d="M329.24,444.4 V453"/>
<path d="M333.03,444.4 V454.5"/>
<path d="M336.82,444.4 V455.5"/>
<path d="M340.61,444.4 V455.5"/>
<path d="M344.40,444.4 V451"/>
<path d="M348.19,444.4 V446"/>
<path d="M351.98,444.4 V445.2"/>
<path d="M355.77,444.4 V444.0"/>
<path d="M359.56,444.4 V445.2"/>
<path d="M363.35,444.4 V448"/>
<path d="M367.14,444.4 V449"/>
<path d="M370.93,444.4 V449"/>
<path d="M374.72,444.4 V448"/>
<path d="M378.51,444.4 V445.5"/>
<path d="M382.30,444.4 V443.6"/>
<path d="M386.09,444.4 V441"/>
<path d="M389.88,444.4 V434"/>
<path d="M393.67,444.4 V429"/>
<path d="M397.46,444.4 V427"/>
<path d="M401.25,444.4 V427"/>
<path d="M405.04,444.4 V425"/>
<path d="M408.83,444.4 V425"/>
<path d="M412.62,444.4 V424"/>
<path d="M416.41,444.4 V428"/>
<path d="M420.20,444.4 V431"/>
<path d="M423.99,444.4 V433"/>
<path d="M427.78,444.4 V437"/>
<path d="M431.57,444.4 V435"/>
<path d="M435.36,444.4 V433"/>
<path d="M439.15,444.4 V432"/>
<path d="M442.94,444.4 V434"/>
<path d="M446.73,444.4 V439"/>
<path d="M450.52,444.4 V442"/>
<path d="M454.31,444.4 V443.8"/>
<path d="M458.10,444.4 V444.8"/>
<path d="M461.89,444.4 V446"/>
<path d="M465.68,444.4 V447.5"/>
<path d="M469.47,444.4 V451"/>
<path d="M473.26,444.4 V455"/>
<path d="M477.05,444.4 V457"/>
<path d="M480.84,444.4 V457"/>
<path d="M484.63,444.4 V456"/>
<path d="M488.42,444.4 V455"/>
<path d="M492.21,444.4 V453"/>
<path d="M496.00,444.4 V453"/>
<path d="M499.79,444.4 V453"/>
<path d="M503.58,444.4 V451"/>
<path d="M507.37,444.4 V449"/>
<path d="M511.16,444.4 V448"/>
<path d="M514.95,444.4 V447"/>
<path d="M518.74,444.4 V445.3"/>
</g>
<path d="M3.0,437.5 L4.5,436.6 L6.0,435.6 M8.7,433.9 L10.2,433.0 L11.7,432.1 M14.4,430.4 L15.9,429.5 L17.4,428.6 M20.1,427.1 L21.6,426.3 L23.1,425.4 M25.8,423.9 L27.3,422.9 L28.7,421.4 M31.2,418.8 L32.6,417.3 L34.0,415.7 M36.6,413.0 L38.0,411.5 L39.4,410.2 M42.1,408.5 L43.6,407.5 L45.1,406.5 M47.8,404.8 L49.4,403.8 L50.8,402.9 M53.5,401.1 L55.0,400.2 L56.5,399.2 M59.2,397.5 L60.7,396.6 L62.2,395.9 M64.8,394.6 L66.3,393.8 L67.8,393.1 M70.5,391.7 L72.0,390.7 L73.5,389.7 M76.2,387.9 L77.7,386.9 L79.2,385.9 M81.9,384.5 L83.4,383.8 L84.9,383.0 M87.6,381.9 L89.1,381.7 L90.6,381.6 M93.2,381.2 L94.8,381.0 L96.2,381.1 M98.9,381.2 L100.4,381.3 L101.9,381.4 M104.6,382.0 L106.1,382.4 L107.6,382.9 M110.3,384.1 L111.7,385.3 L112.9,386.8 M115.1,389.4 L116.3,390.9 L117.4,392.5 M119.3,395.1 L120.4,396.7 L121.4,398.1 M123.2,400.8 L124.3,402.4 L125.2,403.8 M126.6,406.5 L127.5,408.1 L128.2,409.5 M129.6,412.2 L130.4,413.8 L131.1,415.2 M132.6,417.8 L133.4,419.4 L134.2,420.8 M135.5,423.5 L136.3,425.1 L137.0,426.5 M138.3,429.2 L139.1,430.7 L139.8,432.2 M141.2,434.9 L141.9,436.4 L142.7,437.9 M144.5,440.6 L145.6,442.2 L146.6,443.6 M148.4,446.3 L149.5,447.8 L150.4,449.2 M152.9,451.7 L154.4,453.1 L155.9,454.5 M158.6,456.1 L160.1,457.0 L161.6,457.8 M164.3,458.6 L165.8,458.9 L167.3,459.3 M170.0,459.5 L171.5,459.5 L173.0,459.5 M175.7,459.0 L177.2,458.5 L178.7,458.1 M181.3,457.5 L182.8,457.2 L184.3,456.9 M187.0,456.6 L188.5,456.4 L190.0,456.3 M192.7,456.0 L194.2,455.8 L195.7,455.7 M198.4,455.6 L199.9,455.7 L201.4,455.8 M204.0,456.4 L205.6,456.8 L207.1,457.2 M209.7,457.5 L211.2,457.5 L212.7,457.5 M215.4,457.1 L216.9,456.8 L218.4,456.4 M221.1,455.0 L222.6,453.7 L224.1,452.3 M226.8,449.9 L228.3,448.5 L229.8,447.1 M232.2,444.6 L233.6,443.1 L234.9,441.6 M237.4,438.9 L238.8,437.4 L240.2,435.9 M242.5,433.2 L243.5,431.7 L244.5,430.2 M246.8,427.5 L248.2,426.0 L249.5,424.5 M252.2,422.0 L253.7,420.6 L255.2,419.2 M257.8,416.9 L259.4,415.4 L260.9,414.1 M263.5,413.6 L265.0,413.3 L266.5,413.1 M269.2,413.7 L270.7,414.2 L272.2,414.7 M274.9,416.1 L276.4,417.0 L277.9,417.9 M280.6,419.6 L282.1,420.6 L283.6,421.6 M286.3,423.4 L287.8,424.5 L289.2,425.4 M291.9,426.5 L293.4,426.9 L294.9,427.2 M297.6,428.5 L299.1,429.4 L300.6,430.3 M303.3,431.8 L304.8,432.7 L306.3,433.6 M309.0,435.0 L310.5,435.8 L312.0,436.5 M314.6,437.5 L316.2,438.1 L317.7,438.6 M320.3,439.9 L321.8,440.9 L323.3,441.9 M326.0,443.5 L327.5,444.2 L329.0,445.0 M331.7,446.7 L333.2,448.2 L334.7,449.7 M337.4,452.1 L338.9,453.2 L340.4,454.3 M343.0,455.8 L344.5,456.1 L346.0,456.5 M348.7,456.9 L350.2,457.0 L351.7,457.1 M354.4,457.2 L355.9,457.2 L357.4,457.2 M360.1,457.5 L361.6,458.0 L363.1,458.4 M365.8,459.4 L367.3,460.1 L368.8,460.9 M371.5,461.8 L373.0,462.1 L374.4,462.4 M377.1,462.4 L378.6,462.3 L380.1,462.2 M382.8,461.5 L384.3,461.0 L385.8,460.4 M388.5,458.7 L390.1,457.3 L391.5,456.1 M394.2,454.1 L395.5,452.8 L396.7,451.3 M398.7,448.7 L400.0,447.1 L401.1,445.6 M403.1,443.0 L404.2,441.5 L405.3,440.0 M407.3,437.3 L408.5,435.8 L409.6,434.3 M411.8,431.6 L413.2,430.1 L414.5,428.6 M417.1,425.9 L418.6,424.4 L420.1,422.9 M422.7,420.6 L424.2,419.7 L425.7,418.8 M428.4,417.2 L429.9,416.2 L431.4,415.1 M434.1,413.1 L435.6,411.8 L437.1,410.6 M439.8,408.5 L441.3,407.7 L442.8,406.8 M445.5,405.4 L447.0,405.0 L448.5,404.7 M451.1,404.2 L452.6,404.0 L454.1,403.8 M456.8,403.8 L458.3,404.3 L459.8,404.8 M462.5,405.6 L464.0,405.8 L465.5,406.1 M468.2,406.6 L469.7,407.7 L471.2,408.7 M473.9,410.8 L475.4,412.0 L476.9,413.2 M479.5,415.4 L481.1,416.9 L482.6,418.2 M485.2,420.4 L486.7,421.5 L488.2,422.6 M490.9,424.6 L492.4,425.6 L493.9,426.6 M496.6,428.3 L498.1,429.1 L499.6,430.0 M502.3,431.4 L503.8,432.0 L505.3,432.7 M507.9,433.6 L509.4,433.9 L510.9,434.1 M513.6,434.6 L515.1,434.9 L516.6,435.2" stroke="#ff1414" stroke-width="1.2" fill="none"/>
<path d="M3.0,429.2 L15.0,423.2 L22.5,418.0 L30.0,406.0 L39.0,395.5 L45.0,394.0 L48.7,396.2 L57.0,387.2 L67.5,384.2 L75.0,379.0 L84.0,378.2 L91.0,377.0 L96.0,378.0 L102.0,381.5 L107.0,388.0 L111.0,395.0 L115.0,404.0 L118.0,412.0 L121.0,419.5 L125.0,431.0 L130.0,441.0 L135.0,451.0 L140.0,463.0 L144.0,467.0 L147.5,469.3 L152.0,469.3 L154.5,470.5 L158.0,468.5 L162.5,467.2 L168.0,462.0 L174.0,458.0 L177.5,454.5 L184.0,454.5 L190.0,454.2 L195.0,452.2 L199.0,453.5 L204.0,459.0 L208.0,462.5 L212.0,461.5 L215.0,457.0 L219.0,451.0 L223.0,443.5 L227.0,437.0 L230.0,432.0 L233.5,424.5 L238.0,418.5 L242.0,415.5 L245.0,411.5 L248.0,409.0 L252.0,407.0 L256.0,406.5 L258.0,405.5 L262.0,403.0 L265.0,405.0 L268.0,412.0 L272.0,420.5 L276.0,424.0 L280.0,428.0 L283.0,434.0 L287.0,435.5 L291.0,433.0 L295.0,431.5 L298.0,435.0 L302.0,440.5 L307.0,442.5 L310.5,444.5 L314.0,441.0 L318.0,443.5 L322.0,449.5 L326.0,452.5 L330.0,458.0 L335.0,463.5 L340.0,466.2 L345.0,462.0 L350.0,458.5 L355.0,456.5 L359.0,459.5 L363.0,463.0 L368.0,466.0 L371.0,467.5 L374.0,467.5 L377.0,465.0 L382.0,462.0 L386.0,456.0 L390.0,447.0 L394.0,438.0 L400.0,429.0 L404.0,421.0 L409.0,416.0 L412.0,410.5 L417.0,410.0 L423.0,408.0 L427.5,410.5 L432.0,405.0 L437.0,398.5 L439.0,396.5 L442.0,395.0 L445.0,396.5 L450.0,401.0 L454.0,402.5 L459.0,406.0 L464.5,408.5 L468.0,414.0 L472.0,421.5 L476.0,426.0 L481.0,430.5 L488.0,434.0 L495.0,436.5 L499.5,439.0 L506.0,439.2 L512.0,439.0 L515.0,438.0 L518.0,437.2" stroke="#1a1aff" stroke-width="0.98" fill="none" stroke-linejoin="round"/>
<defs><mask id="wmm" maskUnits="userSpaceOnUse" x="0" y="0" width="700" height="500">
<rect x="0" y="0" width="700" height="500" fill="#000"/>
<g transform="translate(128.5,382.5) rotate(-26.5)" stroke-linejoin="round" stroke-linecap="butt">
<text x="0" y="0" transform="scale(0.935,1)" fill="#ffffff" stroke="#ffffff" stroke-width="5.0" style="font-family:'Liberation Sans',sans-serif;font-weight:bold;font-size:67.5px">GCMASIA</text>
<text x="0" y="0" transform="scale(0.935,1)" fill="#000000" stroke="#000000" stroke-width="2.4" style="font-family:'Liberation Sans',sans-serif;font-weight:bold;font-size:67.5px">GCMASIA</text>
<text x="3.6" y="12.5" fill="#ffffff" stroke="#ffffff" stroke-width="2.2" textLength="142" lengthAdjust="spacingAndGlyphs" style="font-family:'Liberation Sans',sans-serif;font-weight:bold;font-size:10.5px">GLOBAL CAPITAL MARKETS</text>
<text x="3.6" y="12.5" fill="#000000" stroke="#000000" stroke-width="0.5" textLength="142" lengthAdjust="spacingAndGlyphs" style="font-family:'Liberation Sans',sans-serif;font-weight:bold;font-size:10.5px">GLOBAL CAPITAL MARKETS</text>
<g transform="translate(306.0,0)" fill="none" stroke-linecap="round"><path d="M3,-46 H46 V-4 H3 Z M34,-36 H16 V-14 H34 M16,-25 H30" stroke="#fff" stroke-width="7.800000000000001"/><path d="M3,-46 H46 V-4 H3 Z M34,-36 H16 V-14 H34 M16,-25 H30" stroke="#000" stroke-width="5.4"/></g>
<g transform="translate(358.5,0)" fill="none" stroke-linecap="round"><path d="M7,-42 L9,-41 M5,-28 L8,-26 M5,-5 L12,-16 M44,-41 H25 V-8 H44" stroke="#fff" stroke-width="9.8"/><path d="M7,-42 L9,-41 M5,-28 L8,-26 M5,-5 L12,-16 M44,-41 H25 V-8 H44" stroke="#000" stroke-width="7.4"/></g>
<g transform="translate(411.0,0)" fill="none" stroke-linecap="round"><path d="M7,-42 H43 M5,-7 H45 M19,-42 V-7 M31,-42 V-7 M8,-29 L10,-20 M42,-29 L40,-20" stroke="#fff" stroke-width="9.8"/><path d="M7,-42 H43 M5,-7 H45 M19,-42 V-7 M31,-42 V-7 M8,-29 L10,-20 M42,-29 L40,-20" stroke="#000" stroke-width="7.4"/></g>
<g transform="translate(463.5,0)" fill="none" stroke-linecap="round"><path d="M7,-42 L9,-41 M5,-28 L8,-26 M5,-5 L11,-16 M22,-44 V-14 Q22,-7 17,-5 M34,-45 V-5 M46,-47 V-5" stroke="#fff" stroke-width="9.8"/><path d="M7,-42 L9,-41 M5,-28 L8,-26 M5,-5 L11,-16 M22,-44 V-14 Q22,-7 17,-5 M34,-45 V-5 M46,-47 V-5" stroke="#000" stroke-width="7.4"/></g>
</g></mask>
<filter id="wmb" x="0" y="0" width="700" height="500" filterUnits="userSpaceOnUse"><feGaussianBlur stdDeviation="0.6"/></filter></defs>
<g filter="url(#wmb)"><rect x="0" y="0" width="700" height="500" fill="#a0a0a0" opacity="0.58" mask="url(#wmm)"/></g>
<path d="M657,46.4 H659.2" stroke="#000" stroke-width="1"/>
<text x="662.4" y="49.61" textLength="30.8" lengthAdjust="spacingAndGlyphs" font-size="9.9" fill="#000">0.66980</text>
<path d="M657,78.4 H659.2" stroke="#000" stroke-width="1"/>
<text x="662.4" y="81.61" textLength="30.8" lengthAdjust="spacingAndGlyphs" font-size="9.9" fill="#000">0.66540</text>
<path d="M657,110.4 H659.2" stroke="#000" stroke-width="1"/>
<text x="662.4" y="113.61" textLength="30.8" lengthAdjust="spacingAndGlyphs" font-size="9.9" fill="#000">0.66100</text>
<path d="M657,174.4 H659.2" stroke="#000" stroke-width="1"/>
<text x="662.4" y="177.61" textLength="30.8" lengthAdjust="spacingAndGlyphs" font-size="9.9" fill="#000">0.65210</text>
<path d="M657,206.4 H659.2" stroke="#000" stroke-width="1"/>
<text x="662.4" y="209.61" textLength="30.8" lengthAdjust="spacingAndGlyphs" font-size="9.9" fill="#000">0.64760</text>
<path d="M657,238.4 H659.2" stroke="#000" stroke-width="1"/>
<text x="662.4" y="241.61" textLength="30.8" lengthAdjust="spacingAndGlyphs" font-size="9.9" fill="#000">0.64320</text>
<path d="M657,302.4 H659.2" stroke="#000" stroke-width="1"/>
<text x="662.4" y="305.61" textLength="30.8" lengthAdjust="spacingAndGlyphs" font-size="9.9" fill="#000">0.63430</text>
<path d="M657,334.4 H659.2" stroke="#000" stroke-width="1"/>
<text x="662.4" y="337.61" textLength="30.8" lengthAdjust="spacingAndGlyphs" font-size="9.9" fill="#000">0.62990</text>
<path d="M657,366.6 H659.2" stroke="#000" stroke-width="1"/>
<text x="662.4" y="369.81" textLength="30.8" lengthAdjust="spacingAndGlyphs" font-size="9.9" fill="#000">0.62540</text>
<text x="662.4" y="145.21" textLength="30.8" lengthAdjust="spacingAndGlyphs" font-size="9.9" fill="#000">0.65650</text>
<text x="662.4" y="273.81" textLength="30.8" lengthAdjust="spacingAndGlyphs" font-size="9.9" fill="#000">0.63870</text>
<rect x="658.4" y="143" width="38.6" height="10.4" fill="#000"/>
<rect x="658.4" y="59.3" width="38.6" height="10.5" fill="#0000ff"/>
<text x="662.4" y="67.71" textLength="30.8" lengthAdjust="spacingAndGlyphs" font-size="9.9" fill="#ffffff">0.66711</text>
<rect x="658.4" y="139.9" width="38.6" height="10.5" fill="#0000ff"/>
<text x="662.4" y="148.31" textLength="30.8" lengthAdjust="spacingAndGlyphs" font-size="9.9" fill="#ffffff">0.65606</text>
<rect x="658.4" y="262.3" width="38.6" height="10.5" fill="#0000ff"/>
<text x="662.4" y="270.71" textLength="30.8" lengthAdjust="spacingAndGlyphs" font-size="9.9" fill="#ffffff">0.63902</text>
<rect x="658.4" y="352.5" width="38.6" height="10.5" fill="#0000ff"/>
<text x="662.4" y="360.91" textLength="30.8" lengthAdjust="spacingAndGlyphs" font-size="9.9" fill="#ffffff">0.62655</text>
<path d="M657,444.2 H658.5" stroke="#000" stroke-width="1"/>
<text x="660.4" y="381.21" textLength="36" lengthAdjust="spacingAndGlyphs" font-size="9.9" fill="#000">0.004759</text>
<text x="660.4" y="447.11" textLength="16.8" lengthAdjust="spacingAndGlyphs" font-size="9.9" fill="#000">0.00</text>
<text x="660.4" y="476.81" textLength="38.5" lengthAdjust="spacingAndGlyphs" font-size="9.9" fill="#000">-0.002334</text>
<path d="M5.9,45.8 H12.3 L9.1,50 Z" fill="#000"/>
<text x="18" y="50.61" textLength="52" lengthAdjust="spacingAndGlyphs" font-size="9.9" fill="#000">AUDUSD,H4</text>
<text x="76" y="50.61" textLength="132" lengthAdjust="spacingAndGlyphs" font-size="9.9" fill="#000">0.65485 0.65741 0.65410 0.65577</text>
<text x="6.8" y="383.61" textLength="182" lengthAdjust="spacingAndGlyphs" font-size="9.9" fill="#000">MACD(12,26,9) 0.000493 0.000582 -0.000088</text>
<path d="M3,480 V483" stroke="#000" stroke-width="1"/>
<text x="2.4" y="492.01" textLength="47.6" lengthAdjust="spacingAndGlyphs" font-size="9.9" fill="#000">24 Apr 2020</text>
<path d="M63.6,480 V483" stroke="#000" stroke-width="1"/>
<text x="63.0" y="492.01" textLength="50.6" lengthAdjust="spacingAndGlyphs" font-size="9.9" fill="#000">28 Apr 16:00</text>
<path d="M124.3,480 V483" stroke="#000" stroke-width="1"/>
<text x="123.7" y="492.01" textLength="49.2" lengthAdjust="spacingAndGlyphs" font-size="9.9" fill="#000">1 May 08:00</text>
<path d="M184.9,480 V483" stroke="#000" stroke-width="1"/>
<text x="184.3" y="492.01" textLength="49.2" lengthAdjust="spacingAndGlyphs" font-size="9.9" fill="#000">5 May 20:00</text>
<path d="M245.5,480 V483" stroke="#000" stroke-width="1"/>
<text x="244.9" y="492.01" textLength="50" lengthAdjust="spacingAndGlyphs" font-size="9.9" fill="#000">8 May 12:00</text>
<path d="M306.2,480 V483" stroke="#000" stroke-width="1"/>
<text x="305.59999999999997" y="492.01" textLength="54" lengthAdjust="spacingAndGlyphs" font-size="9.9" fill="#000">13 May 00:00</text>
<path d="M366.8,480 V483" stroke="#000" stroke-width="1"/>
<text x="366.2" y="492.01" textLength="54" lengthAdjust="spacingAndGlyphs" font-size="9.9" fill="#000">15 May 16:00</text>
<path d="M427.5,480 V483" stroke="#000" stroke-width="1"/>
<text x="426.9" y="492.01" textLength="54" lengthAdjust="spacingAndGlyphs" font-size="9.9" fill="#000">20 May 04:00</text>
<path d="M488.1,480 V483" stroke="#000" stroke-width="1"/>
<text x="487.5" y="492.01" textLength="54" lengthAdjust="spacingAndGlyphs" font-size="9.9" fill="#000">22 May 20:00</text>
</svg></body></html>
